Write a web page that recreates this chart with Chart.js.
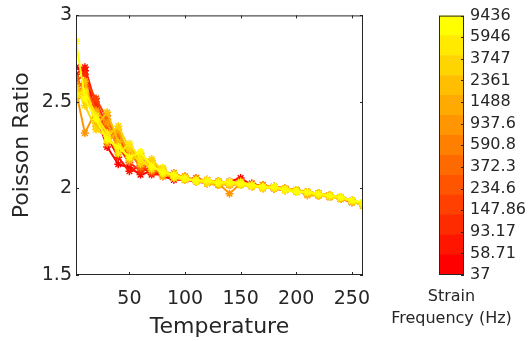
<!DOCTYPE html>
<html lang="en">
<head>
<meta charset="UTF-8">
<title>Poisson Ratio vs Temperature</title>
<script src="https://cdn.jsdelivr.net/npm/chart.js"></script>
<style>
  body { margin: 0; background: #fff; }
  #wrap { position: relative; width: 528px; height: 341px; }
  canvas { position: absolute; top: 0; }
  #cbTitle {
    position: absolute; left: 371px; width: 161px; top: 285px;
    text-align: center; font: 16px 'DejaVu Sans', sans-serif; line-height: 22px; color: #262626;
  }
</style>
</head>
<body>
<div id="wrap">
  <canvas id="main" width="528" height="341" style="left:0"></canvas>
  <canvas id="cbar" width="158" height="341" style="left:370px"></canvas>
  <div id="cbTitle">Strain<br>Frequency (Hz)</div>
</div>
<script>
// temperatures where each frequency was measured
const temps = [2, 10, 20, 30, 40, 50, 60, 70, 80, 90, 100, 110, 120, 130, 140, 150, 160, 170, 180, 190, 200, 210, 220, 230, 240, 250, 260]

const freqLabels = ['37', '58.71', '93.17', '147.86', '234.6', '372.3', '590.8', '937.6', '1488', '2361', '3747', '5946', '9436']

// Poisson ratio, one row per strain frequency (low -> high)
const s37   = [2.70, 2.68, 2.42, 2.24, 2.14, 2.12, 2.08, 2.10, 2.07, 2.05, 2.05, 2.04, 2.03, 2.02, 2.04, 2.06, 2.02, 2.01, 2.00, 2.00, 1.99, 1.98, 1.97, 1.96, 1.95, 1.93, 1.91]
const s58   = [2.66, 2.70, 2.48, 2.30, 2.18, 2.10, 2.13, 2.08, 2.08, 2.06, 2.06, 2.05, 2.04, 2.03, 2.02, 2.03, 2.02, 2.01, 2.01, 2.00, 1.99, 1.98, 1.97, 1.96, 1.94, 1.93, 1.90]
const s93   = [2.62, 2.66, 2.50, 2.36, 2.24, 2.15, 2.10, 2.12, 2.09, 2.07, 2.05, 2.06, 2.04, 2.04, 2.03, 2.04, 2.02, 2.02, 2.00, 1.99, 1.99, 1.97, 1.97, 1.96, 1.95, 1.93, 1.91]
const s147  = [2.58, 2.62, 2.52, 2.40, 2.28, 2.20, 2.14, 2.09, 2.10, 2.06, 2.06, 2.04, 2.05, 2.03, 2.03, 2.02, 2.03, 2.01, 2.01, 2.00, 1.98, 1.98, 1.96, 1.96, 1.94, 1.92, 1.91]
const s234  = [2.55, 2.60, 2.45, 2.34, 2.30, 2.18, 2.16, 2.12, 2.08, 2.08, 2.05, 2.05, 2.03, 2.04, 2.02, 2.03, 2.01, 2.02, 2.00, 2.00, 1.99, 1.98, 1.97, 1.95, 1.95, 1.93, 1.90]
const s372  = [2.64, 2.56, 2.38, 2.42, 2.25, 2.22, 2.12, 2.14, 2.09, 2.06, 2.07, 2.04, 2.04, 2.02, 2.03, 2.03, 2.02, 2.01, 2.01, 1.99, 1.99, 1.97, 1.97, 1.96, 1.94, 1.93, 1.91]
const s590  = [2.52, 2.58, 2.40, 2.28, 2.32, 2.20, 2.18, 2.10, 2.11, 2.07, 2.05, 2.06, 2.03, 2.03, 2.04, 2.02, 2.02, 2.00, 2.01, 2.00, 1.98, 1.98, 1.96, 1.96, 1.95, 1.92, 1.91]
const s937  = [2.56, 2.32, 2.45, 2.38, 2.22, 2.24, 2.15, 2.16, 2.08, 2.09, 2.06, 2.05, 2.05, 2.03, 1.97, 2.03, 2.01, 2.02, 2.00, 2.00, 1.99, 1.97, 1.97, 1.95, 1.95, 1.93, 1.90]
const s1488 = [2.60, 2.52, 2.44, 2.26, 2.34, 2.19, 2.20, 2.13, 2.10, 2.06, 2.07, 2.04, 2.04, 2.04, 2.02, 2.03, 2.02, 2.01, 2.00, 1.99, 1.99, 1.96, 1.96, 1.96, 1.94, 1.93, 1.91]
const s2361 = [2.50, 2.62, 2.36, 2.44, 2.27, 2.16, 2.19, 2.15, 2.07, 2.08, 2.05, 2.05, 2.03, 2.02, 2.03, 2.02, 2.01, 2.01, 2.01, 2.00, 1.98, 1.98, 1.97, 1.96, 1.95, 1.92, 1.91]
const s3747 = [2.58, 2.48, 2.34, 2.30, 2.36, 2.23, 2.14, 2.17, 2.10, 2.07, 2.06, 2.04, 2.04, 2.03, 2.02, 2.04, 2.02, 2.00, 2.01, 1.99, 1.99, 1.97, 1.96, 1.95, 1.94, 1.93, 1.90]
const s5946 = [2.54, 2.56, 2.42, 2.32, 2.20, 2.26, 2.17, 2.11, 2.12, 2.06, 2.05, 2.05, 2.03, 2.04, 2.03, 2.02, 2.01, 2.01, 2.00, 2.00, 1.99, 1.98, 1.97, 1.96, 1.95, 1.93, 1.91]
const s9436 = [2.85, 2.52, 2.40, 2.28, 2.24, 2.18, 2.21, 2.13, 2.09, 2.08, 2.06, 2.04, 2.05, 2.03, 2.04, 2.03, 2.02, 2.01, 2.01, 1.99, 1.98, 1.98, 1.97, 1.96, 1.95, 1.93, 1.92]

const series = [s37, s58, s93, s147, s234, s372, s590, s937, s1488, s2361, s3747, s5946, s9436]

const xTicks = [50, 100, 150, 200, 250]
const yTicks = [1.5, 2, 2.5, 3]

// autumn colormap, red -> yellow
const colors = freqLabels.map((_, i) => `rgb(255,${Math.round(i * 255 / 12)},0)`)

const INK = '#262626'
Chart.defaults.font.family = "'DejaVu Sans', sans-serif"
Chart.defaults.color = INK

// MATLAB style box with inward ticks
const boxTicks = {
  id: 'boxTicks',
  afterDatasetsDraw(chart, args, opts) {
    const { ctx, chartArea: a } = chart
    const len = opts.len || 3
    ctx.save()
    ctx.strokeStyle = opts.color || INK
    ctx.lineWidth = 1
    ctx.strokeRect(a.left + 0.5, a.top + 0.5, a.right - a.left - 1, a.bottom - a.top - 1)
    ctx.beginPath()
    if (opts.x) {
      chart.scales.x.ticks.forEach((t) => {
        const px = Math.round(chart.scales.x.getPixelForValue(t.value)) + 0.5
        ctx.moveTo(px, a.bottom); ctx.lineTo(px, a.bottom - len)
        ctx.moveTo(px, a.top); ctx.lineTo(px, a.top + len)
      })
    }
    const ys = chart.scales.y
    ys.ticks.forEach((t) => {
      const py = Math.round(ys.getPixelForValue(t.value)) + 0.5
      if (opts.left) { ctx.moveTo(a.left, py); ctx.lineTo(a.left + len, py) }
      if (opts.right) { ctx.moveTo(a.right, py); ctx.lineTo(a.right - len, py) }
    })
    ctx.stroke()
    ctx.restore()
  }
}

new Chart(document.getElementById('main'), {
  type: 'line',
  plugins: [boxTicks],
  data: {
    datasets: series.map((vals, i) => ({
      label: freqLabels[i],
      data: temps.map((t, j) => ({ x: t, y: vals[j] })),
      borderColor: colors[i],
      backgroundColor: colors[i],
      borderWidth: 2,
      pointStyle: 'star',
      pointRadius: 4,
      pointBorderWidth: 1.5,
      tension: 0,
      order: series.length - i, // high frequencies (yellow) on top
    }))
  },
  options: {
    responsive: false,
    animation: false,
    devicePixelRatio: 1,
    layout: { padding: { top: 15, right: 165, left: 0, bottom: 0 } },
    plugins: {
      legend: { display: false },
      tooltip: { enabled: false },
      boxTicks: { x: true, left: true, right: true, len: 3 },
    },
    scales: {
      x: {
        type: 'linear', min: 2, max: 260,
        afterBuildTicks: (s) => { s.ticks = xTicks.map((v) => ({ value: v })) },
        afterFit: (s) => { s.height = 66 },
        grid: { display: false, drawTicks: false },
        border: { display: false },
        ticks: { font: { size: 19 }, padding: 13, maxRotation: 0, autoSkip: false, color: INK },
        title: { display: true, text: 'Temperature', font: { size: 22 }, color: INK, padding: { top: 0, bottom: 1 } },
      },
      y: {
        min: 1.5, max: 3,
        afterBuildTicks: (s) => { s.ticks = yTicks.map((v) => ({ value: v })) },
        afterFit: (s) => { s.width = 76 },
        grid: { display: false, drawTicks: false },
        border: { display: false },
        ticks: { font: { size: 19 }, padding: 4, color: INK, autoSkip: false, callback: (v) => String(v) },
        title: { display: true, text: 'Poisson Ratio', font: { size: 22 }, color: INK, padding: { top: 9, bottom: 0 } },
      },
    },
  },
})

// colorbar: 13 equal bands, labels at 13 evenly spaced ticks
new Chart(document.getElementById('cbar'), {
  type: 'bar',
  plugins: [boxTicks],
  data: {
    labels: ['cb'],
    datasets: colors.map((c, i) => ({
      data: [[i * 12 / 13, (i + 1) * 12 / 13]],
      backgroundColor: c,
      borderWidth: 0,
      grouped: false,
      barPercentage: 1,
      categoryPercentage: 1,
    }))
  },
  options: {
    responsive: false,
    animation: false,
    devicePixelRatio: 1,
    layout: { padding: { left: 69, top: 14, right: 0, bottom: 0 } },
    plugins: {
      legend: { display: false },
      tooltip: { enabled: false },
      boxTicks: { right: true, len: 3 },
    },
    scales: {
      x: {
        afterFit: (s) => { s.height = 66 },
        grid: { display: false, drawTicks: false },
        border: { display: false },
        ticks: { display: false },
      },
      y: {
        position: 'right', min: 0, max: 12,
        afterBuildTicks: (s) => { s.ticks = freqLabels.map((_, k) => ({ value: k })) },
        afterFit: (s) => { s.width = 64 },
        grid: { display: false, drawTicks: false },
        border: { display: false },
        ticks: { font: { size: 16 }, padding: 6, color: INK, autoSkip: false, callback: (v, i) => freqLabels[i] },
      },
    },
  },
})
</script>
</body>
</html>
